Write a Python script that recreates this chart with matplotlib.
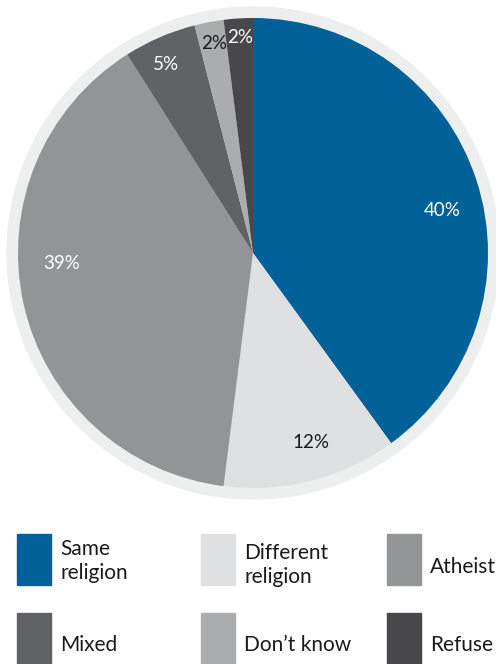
import matplotlib
matplotlib.use("Agg")
import matplotlib.pyplot as plt
from matplotlib.patches import Circle, Rectangle

categories = ["Same religion", "Different religion", "Atheist", "Mixed", "Don\u2019t know", "Refuse"]
legend_labels = ["Same\nreligion", "Different\nreligion", "Atheist", "Mixed", "Don\u2019t know", "Refuse"]
values = [40, 12, 39, 5, 2, 2]
colors = ["#006098", "#dfe0e2", "#939496", "#616266", "#abacae", "#48484a"]
label_colors = ["white", "#1a1a1a", "white", "white", "#1a1a1a", "white"]
# label offsets from the pie centre, in pixels (x right, y up)
label_offsets = [(189, 43), (58, -190), (-191, -10), (-87, 189), (-39, 210), (-13, 216)]

W, H, DPI = 496, 664, 100
plt.rcParams["font.family"] = ["Lato", "DejaVu Sans"]

fig = plt.figure(figsize=(W / DPI, H / DPI), dpi=DPI)
fig.patch.set_facecolor("white")

cx, cy = 253, 253          # pie centre (pixels from top-left)
R, R_ring = 235, 246
half = 260
ax = fig.add_axes([(cx - half) / W, (H - cy - half) / H, 2 * half / W, 2 * half / H])

ax.add_patch(Circle((0, 0), R_ring, color="#edefef", zorder=0))
wedges, _ = ax.pie(values, colors=colors, radius=R, startangle=90,
                   counterclock=False, wedgeprops=dict(linewidth=0))
for w in wedges:
    w.set_zorder(1)
ax.set_xlim(-half, half)
ax.set_ylim(-half, half)
ax.set_aspect("equal")
ax.axis("off")

for v, (dx, dy), c in zip(values, label_offsets, label_colors):
    ax.text(dx, dy, f"{v}%", ha="center", va="center", color=c,
            fontsize=13.5, zorder=3)

# legend drawn in figure pixel coordinates
lax = fig.add_axes([0, 0, 1, 1])
lax.set_xlim(0, W)
lax.set_ylim(H, 0)
lax.axis("off")
lax.patch.set_alpha(0)

col_x = [17, 201, 387]
row_y = [534, 613]
text_y = [[561, 565, 567], [645, 645, 645]]
for i, (lab, col) in enumerate(zip(legend_labels, colors)):
    r, c = divmod(i, 3)
    lax.add_patch(Rectangle((col_x[c], row_y[r]), 34, 51, color=col))
    lax.text(col_x[c] + 43, text_y[r][c], lab, ha="left", va="center",
             fontsize=15, color="#1a1a1a", linespacing=1.3)

fig.savefig("out.png", dpi=DPI)
